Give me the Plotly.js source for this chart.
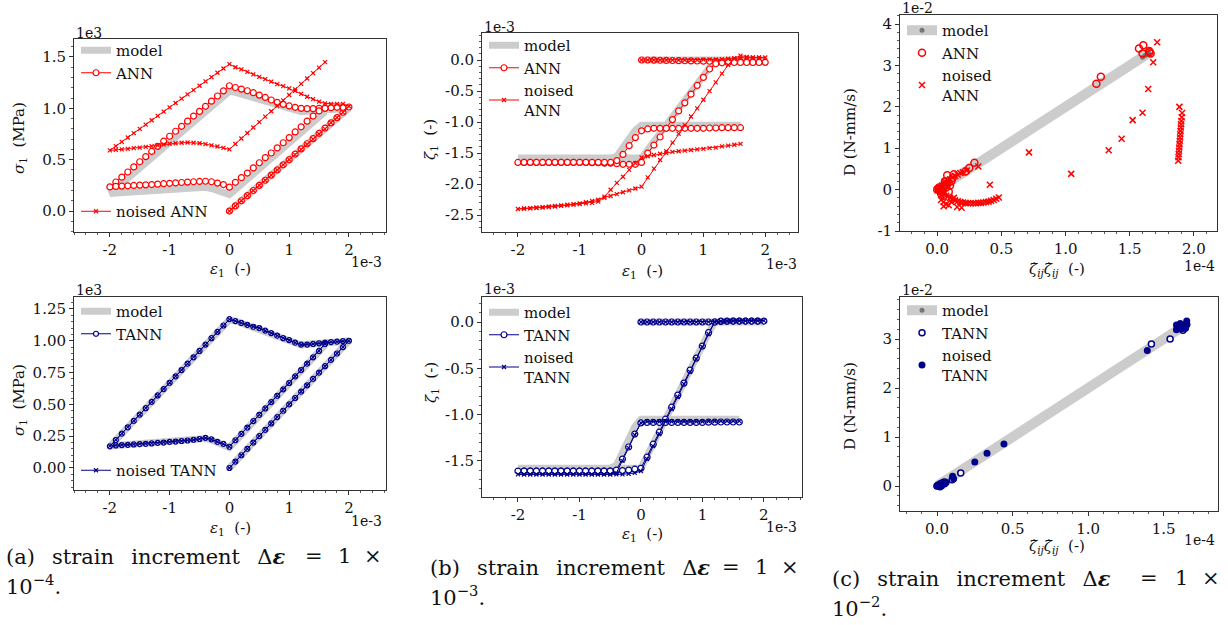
<!DOCTYPE html>
<html><head><meta charset="utf-8">
<script src="https://cdn.plot.ly/plotly-3.0.1.min.js"></script>
<style>html,body{margin:0;padding:0;background:#fff;} #chart{width:1228px;height:625px;}</style>
</head><body><div id="chart"></div>
<script>
// ---------- strain path (x in units of 1e-3) ----------
const strainPath = [0,0.1,0.2,0.3,0.4,0.5,0.6,0.7,0.8,0.9,1.0,1.1,1.2,1.3,1.4,1.5,1.6,1.7,1.8,1.9,2.0,
 1.9,1.8,1.7,1.6,1.5,1.4,1.3,1.2,1.1,1.0,0.9,0.8,0.7,0.6,0.5,0.4,0.3,0.2,0.1,0,
 -0.1,-0.2,-0.3,-0.4,-0.5,-0.6,-0.7,-0.8,-0.9,-1.0,-1.1,-1.2,-1.3,-1.4,-1.5,-1.6,-1.7,-1.8,-1.9,-2.0,
 -1.9,-1.8,-1.7,-1.6,-1.5,-1.4,-1.3,-1.2,-1.1,-1.0,-0.9,-0.8,-0.7,-0.6,-0.5,-0.4,-0.3,-0.2,-0.1,0,
 0.1,0.2,0.3,0.4,0.5,0.6,0.7,0.8,0.9,1.0,1.1,1.2,1.3,1.4,1.5,1.6];

// ---------- stress sigma_1 (units of 1e3 MPa) ----------
const sigmaModel = [0,0.05,0.1,0.15,0.2,0.25,0.3,0.35,0.4,0.45,0.5,0.55,0.6,0.65,0.7,0.75,0.8,0.85,0.9,0.95,1.0,
 0.995,0.99,0.985,0.98,0.975,0.972,0.97,0.968,0.985,1.003,1.02,1.04,1.06,1.078,1.095,1.11,1.125,1.14,1.155,1.165,
 1.115,1.065,1.015,0.965,0.915,0.865,0.815,0.765,0.715,0.665,0.615,0.565,0.515,0.465,0.415,0.365,0.315,0.265,0.215,0.17,
 0.176,0.18,0.183,0.186,0.19,0.193,0.196,0.2,0.203,0.207,0.21,0.214,0.218,0.223,0.228,0.232,0.22,0.2,0.185,0.16,
 0.21,0.26,0.31,0.36,0.41,0.46,0.51,0.56,0.61,0.66,0.71,0.76,0.81,0.86,0.91,0.965];
const sigmaANN = [0,0.05,0.1,0.15,0.2,0.25,0.3,0.35,0.4,0.45,0.5,0.555,0.605,0.655,0.705,0.757,0.808,0.858,0.91,0.962,1.013,
 1.01,1.01,1.006,1.003,1.0,0.997,0.997,1.0,1.01,1.023,1.039,1.058,1.081,1.106,1.129,1.152,1.171,1.187,1.203,1.22,
 1.17,1.12,1.07,1.02,0.97,0.925,0.875,0.825,0.777,0.728,0.68,0.63,0.58,0.53,0.48,0.43,0.38,0.33,0.283,0.235,
 0.24,0.243,0.246,0.249,0.252,0.255,0.258,0.262,0.266,0.27,0.274,0.278,0.282,0.285,0.288,0.29,0.285,0.272,0.258,0.232,
 0.28,0.325,0.37,0.42,0.47,0.52,0.565,0.615,0.665,0.715,0.77,0.82,0.875,0.925,0.975,1.0];
const sigmaNoisedANN = [0,0.05,0.1,0.15,0.2,0.25,0.3,0.35,0.4,0.45,0.5,0.55,0.6,0.65,0.7,0.75,0.8,0.86,0.91,0.96,1.02,
 1.042,1.042,1.042,1.048,1.065,1.09,1.113,1.14,1.17,1.194,1.216,1.235,1.26,1.284,1.306,1.33,1.355,1.38,1.40,1.43,
 1.388,1.346,1.304,1.262,1.22,1.178,1.136,1.094,1.052,1.01,0.968,0.926,0.884,0.842,0.8,0.758,0.716,0.674,0.632,0.59,
 0.595,0.6,0.606,0.612,0.618,0.625,0.632,0.64,0.648,0.655,0.66,0.665,0.667,0.665,0.66,0.652,0.64,0.628,0.615,0.6,
 0.653,0.706,0.76,0.813,0.866,0.92,0.972,1.025,1.078,1.13,1.185,1.238,1.29,1.343,1.396,1.45];
const sigmaTANN = [0,0.05,0.1,0.15,0.2,0.25,0.3,0.35,0.4,0.45,0.5,0.55,0.6,0.65,0.7,0.75,0.8,0.85,0.9,0.95,1.0,
 0.997,0.993,0.99,0.985,0.98,0.975,0.97,0.97,0.985,1.005,1.02,1.04,1.06,1.08,1.1,1.11,1.125,1.14,1.154,1.17,
 1.12,1.07,1.02,0.97,0.92,0.87,0.82,0.77,0.72,0.67,0.62,0.57,0.52,0.47,0.42,0.37,0.32,0.27,0.22,0.17,
 0.177,0.18,0.182,0.185,0.188,0.19,0.193,0.197,0.2,0.205,0.208,0.212,0.216,0.222,0.228,0.237,0.225,0.205,0.19,0.167,
 0.218,0.268,0.318,0.368,0.418,0.468,0.518,0.568,0.618,0.668,0.72,0.77,0.82,0.87,0.92,0.975];
const sigmaNoisedTANN = [0,0.051,0.1,0.151,0.2,0.25,0.301,0.35,0.4,0.451,0.5,0.55,0.601,0.65,0.7,0.751,0.8,0.85,0.901,0.95,1.0,
 0.996,0.993,0.989,0.985,0.98,0.975,0.971,0.969,0.986,1.004,1.021,1.04,1.059,1.079,1.1,1.112,1.126,1.14,1.155,1.168,
 1.118,1.069,1.019,0.969,0.92,0.871,0.82,0.77,0.721,0.67,0.621,0.57,0.52,0.471,0.42,0.37,0.321,0.27,0.221,0.172,
 0.178,0.181,0.183,0.185,0.189,0.191,0.194,0.197,0.201,0.205,0.209,0.212,0.217,0.222,0.228,0.236,0.224,0.206,0.19,0.168,
 0.219,0.268,0.319,0.368,0.419,0.468,0.519,0.568,0.619,0.668,0.719,0.77,0.821,0.87,0.921,0.975];

// ---------- internal variable zeta_1 (units of 1e-3) ----------
const zetaModel = [0,0,0,0,0,0,0,0,0,0,0,0,0,0,0,0,0,0,0,0,0,
 0,0,0,0,0,0,0,0,-0.12,-0.255,-0.39,-0.525,-0.66,-0.795,-0.93,-1.065,-1.2,-1.335,-1.47,-1.58,
 -1.58,-1.58,-1.58,-1.58,-1.58,-1.58,-1.58,-1.58,-1.58,-1.58,-1.58,-1.58,-1.58,-1.58,-1.58,-1.58,-1.58,-1.58,-1.58,-1.58,
 -1.58,-1.58,-1.58,-1.58,-1.58,-1.58,-1.58,-1.58,-1.58,-1.58,-1.58,-1.58,-1.58,-1.58,-1.58,-1.55,-1.41,-1.27,-1.13,-1.05,
 -1.05,-1.05,-1.05,-1.05,-1.05,-1.05,-1.05,-1.05,-1.05,-1.05,-1.05,-1.05,-1.05,-1.05,-1.05,-1.05];
const zetaANN = [0,0,-0.002,-0.004,-0.006,-0.008,-0.01,-0.012,-0.014,-0.016,-0.018,-0.02,-0.022,-0.024,-0.026,-0.028,-0.03,-0.032,-0.034,-0.036,-0.038,
 -0.04,-0.04,-0.04,-0.04,-0.04,-0.04,-0.045,-0.06,-0.145,-0.28,-0.41,-0.55,-0.69,-0.82,-0.96,-1.1,-1.24,-1.37,-1.5,-1.65,
 -1.68,-1.68,-1.68,-1.67,-1.66,-1.66,-1.655,-1.655,-1.65,-1.65,-1.65,-1.65,-1.65,-1.65,-1.65,-1.65,-1.65,-1.65,-1.65,-1.65,
 -1.648,-1.648,-1.648,-1.648,-1.648,-1.648,-1.648,-1.648,-1.648,-1.648,-1.648,-1.648,-1.648,-1.648,-1.648,-1.62,-1.52,-1.38,-1.25,-1.14,
 -1.11,-1.1,-1.1,-1.1,-1.1,-1.1,-1.1,-1.1,-1.1,-1.1,-1.095,-1.095,-1.09,-1.09,-1.09,-1.09];
const zetaNoisedANN = [0,0,0,0,0,0,0,0,0,0,0.005,0.01,0.01,0.015,0.02,0.03,0.07,0.05,0.04,0.04,0.04,
 0.04,0.04,0.04,0.035,0.02,-0.08,-0.22,-0.36,-0.5,-0.64,-0.78,-0.91,-1.05,-1.19,-1.33,-1.47,-1.61,-1.75,-1.89,-2.04,
 -2.07,-2.1,-2.13,-2.16,-2.19,-2.22,-2.25,-2.27,-2.29,-2.31,-2.32,-2.33,-2.34,-2.35,-2.36,-2.37,-2.38,-2.39,-2.395,-2.4,
 -2.39,-2.385,-2.38,-2.375,-2.37,-2.36,-2.35,-2.34,-2.33,-2.32,-2.31,-2.3,-2.28,-2.2,-2.09,-1.98,-1.88,-1.77,-1.66,-1.57,
 -1.55,-1.53,-1.51,-1.5,-1.48,-1.47,-1.46,-1.45,-1.44,-1.43,-1.42,-1.41,-1.39,-1.38,-1.365,-1.35];
const zetaTANN = [0,0,0,0,0,0,0,0,0,0,0,0,0,0.005,0.008,0.01,0.01,0.01,0.01,0.01,0.01,
 0.01,0.01,0.01,0.01,0.01,0.01,0.01,0,-0.115,-0.26,-0.39,-0.52,-0.66,-0.79,-0.92,-1.05,-1.19,-1.32,-1.46,-1.58,
 -1.59,-1.6,-1.605,-1.61,-1.61,-1.61,-1.61,-1.61,-1.61,-1.61,-1.61,-1.61,-1.61,-1.61,-1.61,-1.61,-1.61,-1.61,-1.61,-1.61,
 -1.61,-1.61,-1.61,-1.61,-1.61,-1.61,-1.61,-1.61,-1.61,-1.61,-1.61,-1.61,-1.61,-1.61,-1.61,-1.6,-1.48,-1.35,-1.21,-1.09,
 -1.085,-1.085,-1.085,-1.085,-1.085,-1.085,-1.085,-1.085,-1.085,-1.085,-1.082,-1.082,-1.08,-1.08,-1.08,-1.08];
const zetaNoisedTANN = [0,0,0,0,0,0,0,0,0,0,0,0.002,0.004,0.006,0.008,0.01,0.012,0.013,0.014,0.015,0.015,
 0.015,0.015,0.015,0.015,0.015,0.015,0.01,0,-0.13,-0.27,-0.4,-0.54,-0.67,-0.81,-0.94,-1.07,-1.21,-1.34,-1.48,-1.61,
 -1.63,-1.64,-1.645,-1.645,-1.645,-1.645,-1.645,-1.645,-1.645,-1.645,-1.645,-1.645,-1.645,-1.645,-1.645,-1.645,-1.645,-1.645,-1.645,-1.645,
 -1.645,-1.645,-1.645,-1.645,-1.645,-1.645,-1.645,-1.645,-1.645,-1.645,-1.645,-1.645,-1.645,-1.645,-1.645,-1.63,-1.5,-1.36,-1.22,-1.09,
 -1.075,-1.075,-1.075,-1.075,-1.075,-1.075,-1.075,-1.075,-1.075,-1.075,-1.072,-1.072,-1.07,-1.07,-1.07,-1.07];

// ---------- dissipation D (1e-2 N-mm/s) vs zeta-rate product (1e-4) ----------
const dissModelX = [0,0.005,0.02,0.05,1.6,1.63,1.65,1.62,0.03,0.01,0];
const dissModelY = [0,0.01,0.04,0.1,3.2,3.26,3.3,3.24,0.06,0.02,0];
const dissANNX = [0.0,0.01,0.02,0.015,0.03,0.04,0.05,0.06,0.03,0.05,0.07,0.08,0.1,0.09,0.06,0.11,0.12,0.078,0.13,0.22,0.25,0.29,1.24,1.275,1.572,1.606,1.6,1.652,1.663,1.655];
const dissANNY = [0.0,0.02,-0.03,0.05,0.0,-0.06,0.05,0.1,-0.1,-0.15,0.05,0.15,0.1,-0.05,0.2,0.2,0.28,0.35,0.37,0.44,0.52,0.65,2.56,2.73,3.41,3.49,3.29,3.35,3.29,3.32];
const dissNoisedANNX = [0.0,0.02,0.03,0.04,0.05,0.06,0.07,0.08,0.03,0.05,0.06,0.08,0.1,0.12,0.14,0.16,0.18,0.2,0.23,0.05,0.07,0.09,0.11,0.13,0.155,0.19,
 0.1,0.12,0.14,0.16,0.18,0.2,0.22,0.24,0.26,0.28,0.3,0.32,0.34,0.36,0.38,0.4,0.42,0.44,0.46,0.48,
 0.32,0.41,0.715,1.044,1.336,1.437,1.523,1.60,1.644,1.683,1.714,
 1.887,1.908,1.905,1.902,1.9,1.898,1.896,1.894,1.892,1.89,1.888,1.886,1.884,1.882,1.88,1.878];
const dissNoisedANNY = [0.0,0.05,-0.05,0.1,-0.1,0.15,-0.15,0.08,-0.25,-0.3,0.2,0.22,0.25,0.3,0.33,0.36,0.4,0.42,0.46,-0.4,-0.35,-0.38,-0.3,-0.2,-0.42,-0.44,
 -0.2,-0.23,-0.26,-0.28,-0.3,-0.31,-0.32,-0.33,-0.33,-0.33,-0.33,-0.32,-0.32,-0.31,-0.3,-0.29,-0.27,-0.25,-0.22,-0.19,
 0.56,0.12,0.9,0.38,0.95,1.23,1.68,1.86,2.43,3.08,3.56,
 2.0,1.85,1.75,1.66,1.58,1.5,1.42,1.34,1.26,1.18,1.1,1.02,0.94,0.86,0.78,0.7];
const dissTANNX = [0,0.01,0.02,0.03,0.015,0.04,0.05,0.1,0.157,1.419,1.543,1.628,1.64,1.65,1.62];
const dissTANNY = [0,0.02,0.04,0.05,0.01,0.07,0.08,0.13,0.265,2.9,3.0,3.18,3.25,3.3,3.22];
const dissNoisedTANNX = [0,0.01,0.02,0.03,0.04,0.05,0.06,0.02,0.03,0.103,0.11,0.25,0.331,0.443,1.392,1.585,1.585,1.61,1.63,1.64,1.645,1.653,1.62,1.655];
const dissNoisedTANNY = [0,0.01,0.03,0.02,0.05,0.04,0.07,-0.02,0.0,0.2,0.15,0.49,0.67,0.86,2.77,3.29,3.19,3.32,3.22,3.29,3.22,3.37,3.26,3.3];

// ---------- tick labels ----------
const epsTickVals = [-2,-1,0,1,2];
const epsTickText = ['-2','-1','0','1','2'];
const sigTopTickVals = [0,0.5,1.0,1.5];
const sigTopTickText = ['0.0','0.5','1.0','1.5'];
const sigBotTickVals = [0,0.25,0.5,0.75,1.0,1.25];
const sigBotTickText = ['0.00','0.25','0.50','0.75','1.00','1.25'];
const zetaTopTickVals = [-2.5,-2,-1.5,-1,-0.5,0];
const zetaTopTickText = ['-2.5','-2.0','-1.5','-1.0','-0.5','0.0'];
const zetaBotTickVals = [-1.5,-1,-0.5,0];
const zetaBotTickText = ['-1.5','-1.0','-0.5','0.0'];
const dTopTickVals = [-1,0,1,2,3,4];
const dTopTickText = ['-1','0','1','2','3','4'];
const dBotTickVals = [0,1,2,3];
const dBotTickText = ['0','1','2','3'];
const rateTopTickVals = [0,0.5,1.0,1.5,2.0];
const rateTopTickText = ['0.0','0.5','1.0','1.5','2.0'];
const rateBotTickVals = [0,0.5,1.0,1.5];
const rateBotTickText = ['0.0','0.5','1.0','1.5'];

// ---------- styling ----------
const W = 1228, H = 625;
const FONT = '"DejaVu Serif", "Liberation Serif", serif';
const RED = '#ff0000', NAVY = '#00008b', GREY = '#cccccc';
const px = v => v / W, py = v => 1 - v / H;

function axis(l, r, range, vals, text, minor, anchor, isY) {
  return {
    domain: isY ? [py(r), py(l)] : [px(l), px(r)],
    range: range, anchor: anchor, autorange: false,
    tickmode: 'array', tickvals: vals, ticktext: text,
    ticks: 'outside', ticklen: 4, tickwidth: 1, tickcolor: '#333',
    minor: {tickmode: 'linear', tick0: 0, dtick: minor, ticks: 'outside', ticklen: 2, tickwidth: 0.8, tickcolor: '#333'},
    showline: true, mirror: true, linecolor: '#333', linewidth: 1,
    showgrid: false, zeroline: false,
    tickfont: {family: FONT, size: 15, color: '#111'}
  };
}

const traces = [];
function pathTraces(xa, ya, yModel, yNet, yNoise, netName, noiseName, color, legA, legB, circSize) {
  traces.push({x: strainPath, y: yModel, xaxis: xa, yaxis: ya, mode: 'lines', name: 'model',
    line: {color: GREY, width: 7}, legend: legA});
  traces.push({x: strainPath, y: yNet, xaxis: xa, yaxis: ya, mode: 'lines+markers', name: netName,
    line: {color: color, width: 1}, marker: {symbol: 'circle', size: circSize, color: '#ffffff', line: {color: color, width: 1.2}}, legend: legA});
  traces.push({x: strainPath, y: yNoise, xaxis: xa, yaxis: ya, mode: 'lines+markers', name: noiseName,
    line: {color: color, width: 1}, marker: {symbol: 'x-thin', size: 4, color: color, line: {color: color, width: 1.2}}, legend: legB});
}
pathTraces('x', 'y', sigmaModel, sigmaANN, sigmaNoisedANN, 'ANN', 'noised ANN', RED, 'legend', 'legend2', 6);
pathTraces('x2', 'y2', sigmaModel, sigmaTANN, sigmaNoisedTANN, 'TANN', 'noised TANN', NAVY, 'legend3', 'legend4', 5);
pathTraces('x3', 'y3', zetaModel, zetaANN, zetaNoisedANN, 'ANN', 'noised<br>ANN', RED, 'legend5', 'legend5', 6);
pathTraces('x4', 'y4', zetaModel, zetaTANN, zetaNoisedTANN, 'TANN', 'noised<br>TANN', NAVY, 'legend6', 'legend6', 6);

// dissipation panels
traces.push({x: dissModelX, y: dissModelY, xaxis: 'x5', yaxis: 'y5', mode: 'lines+markers', name: 'model',
  line: {color: GREY, width: 10}, marker: {color: '#777777', size: 5}, legend: 'legend7'});
traces.push({x: dissANNX, y: dissANNY, xaxis: 'x5', yaxis: 'y5', mode: 'markers', name: 'ANN',
  marker: {symbol: 'circle-open', size: 7, color: RED, line: {color: RED, width: 1.5}}, legend: 'legend7'});
traces.push({x: dissNoisedANNX, y: dissNoisedANNY, xaxis: 'x5', yaxis: 'y5', mode: 'markers', name: 'noised<br>ANN',
  marker: {symbol: 'x-thin', size: 6, color: RED, line: {color: RED, width: 1.5}}, legend: 'legend7'});
traces.push({x: dissModelX, y: dissModelY, xaxis: 'x6', yaxis: 'y6', mode: 'lines+markers', name: 'model',
  line: {color: GREY, width: 10}, marker: {color: '#777777', size: 5}, legend: 'legend8'});
traces.push({x: dissTANNX, y: dissTANNY, xaxis: 'x6', yaxis: 'y6', mode: 'markers', name: 'TANN',
  marker: {symbol: 'circle', size: 6, color: '#ffffff', line: {color: NAVY, width: 1.5}}, legend: 'legend8'});
traces.push({x: dissNoisedTANNX, y: dissNoisedTANNY, xaxis: 'x6', yaxis: 'y6', mode: 'markers', name: 'noised<br>TANN',
  marker: {symbol: 'circle', size: 7, color: NAVY}, legend: 'legend8'});

function leg(x, y) {
  return {x: px(x), y: py(y), xanchor: 'left', yanchor: 'top', bgcolor: 'rgba(0,0,0,0)', borderwidth: 0,
    font: {family: FONT, size: 15, color: '#111'}, traceorder: 'normal', tracegroupgap: 0};
}

const ann = [];
function txt(x, y, s, opt) {
  ann.push(Object.assign({xref: 'paper', yref: 'paper', x: px(x), y: py(y), text: s, showarrow: false,
    font: {family: FONT, size: 14, color: '#111'}, xanchor: 'center', yanchor: 'middle'}, opt || {}));
}
// exponent labels
txt(74, 33, '1e3', {xanchor: 'left'});
txt(482, 27, '1e-3', {xanchor: 'left'});
txt(900, 8, '1e-2', {xanchor: 'left'});
txt(74, 290, '1e3', {xanchor: 'left'});
txt(482, 289, '1e-3', {xanchor: 'left'});
txt(900, 290, '1e-2', {xanchor: 'left'});
txt(384, 262, '1e-3', {xanchor: 'right'});
txt(799, 264, '1e-3', {xanchor: 'right'});
txt(1217, 266, '1e-4', {xanchor: 'right'});
txt(384, 521, '1e-3', {xanchor: 'right'});
txt(799, 527, '1e-3', {xanchor: 'right'});
txt(1217, 540, '1e-4', {xanchor: 'right'});
// axis titles
const AT = {font: {family: FONT, size: 15, color: '#111'}};
txt(230, 270, '<i>ε</i><sub>1</sub>  (-)', AT);
txt(230, 528, '<i>ε</i><sub>1</sub>  (-)', AT);
txt(642, 271, '<i>ε</i><sub>1</sub>  (-)', AT);
txt(642, 534, '<i>ε</i><sub>1</sub>  (-)', AT);
const zdot = '<i>ζ\u0307</i><sub><i>ij</i></sub>';
txt(1057, 270, zdot + zdot + '  (-)', AT);
txt(1057, 546, zdot + zdot + '  (-)', AT);
txt(19, 138, '<i>σ</i><sub>1</sub>  (MPa)', Object.assign({textangle: -90}, AT));
txt(19, 400, '<i>σ</i><sub>1</sub>  (MPa)', Object.assign({textangle: -90}, AT));
txt(431, 140, '<i>ζ</i><sub>1</sub>  (-)', Object.assign({textangle: -90}, AT));
txt(431, 383, '<i>ζ</i><sub>1</sub>  (-)', Object.assign({textangle: -90}, AT));
txt(850, 132, 'D (N-mm/s)', Object.assign({textangle: -90}, AT));
txt(850, 406, 'D (N-mm/s)', Object.assign({textangle: -90}, AT));
// captions (justified first line: wide word spaces, then '=', '1', '×' spread to the right edge)
const CAP = {font: {family: FONT, size: 21, color: '#111'}, xanchor: 'left'};
const CAPC = {font: {family: FONT, size: 21, color: '#111'}, xanchor: 'center'};
const gap = '\u00a0\u2002';
function caption(x0, y0, letter, expo, span) {
  txt(x0, y0, '(' + letter + ')' + gap + 'strain' + gap + 'increment' + gap + 'Δ<b><i>ε</i></b>', CAP);
  txt(x0 + span * 0.815, y0, '=', CAPC);
  txt(x0 + span * 0.897, y0, '1', CAPC);
  txt(x0 + span * 0.972, y0, '×', CAPC);
  txt(x0, y0 + 29, '10<sup>−' + expo + '</sup>.', CAP);
}
caption(4, 556, 'a', '4', 380);
caption(428, 567, 'b', '3', 372);
caption(830, 578, 'c', '2', 392);

const layout = {
  width: W, height: H, margin: {l: 0, r: 0, t: 0, b: 0},
  paper_bgcolor: '#ffffff', plot_bgcolor: '#ffffff',
  font: {family: FONT, color: '#111'},
  xaxis: axis(74, 386, [-2.6, 2.62], epsTickVals, epsTickText, 0.2, 'y', false),
  yaxis: axis(39, 232, [-0.204, 1.675], sigTopTickVals, sigTopTickText, 0.1, 'x', true),
  xaxis2: axis(74, 386, [-2.6, 2.62], epsTickVals, epsTickText, 0.2, 'y2', false),
  yaxis2: axis(297, 490, [-0.173, 1.344], sigBotTickVals, sigBotTickText, 0.05, 'x2', true),
  xaxis3: axis(482, 798, [-2.58, 2.53], epsTickVals, epsTickText, 0.2, 'y3', false),
  yaxis3: axis(33, 232, [-2.77, 0.435], zetaTopTickVals, zetaTopTickText, 0.1, 'x3', true),
  xaxis4: axis(482, 802, [-2.585, 2.62], epsTickVals, epsTickText, 0.2, 'y4', false),
  yaxis4: axis(297, 497, [-1.89, 0.27], zetaBotTickVals, zetaBotTickText, 0.1, 'x4', true),
  xaxis5: axis(900, 1217, [-0.29, 2.18], rateTopTickVals, rateTopTickText, 0.1, 'y5', false),
  yaxis5: axis(15, 231, [-1.0, 4.22], dTopTickVals, dTopTickText, 0.2, 'x5', true),
  xaxis6: axis(900, 1218, [-0.245, 1.86], rateBotTickVals, rateBotTickText, 0.1, 'y6', false),
  yaxis6: axis(297, 511, [-0.51, 3.86], dBotTickVals, dBotTickText, 0.2, 'x6', true),
  legend: leg(76, 34),
  legend2: leg(76, 195),
  legend3: leg(76, 295),
  legend4: leg(76, 454),
  legend5: leg(484, 29),
  legend6: leg(484, 296),
  legend7: leg(902, 14),
  legend8: leg(902, 294),
  annotations: ann,
  showlegend: true
};

Plotly.newPlot('chart', traces, layout, {staticPlot: true, displayModeBar: false});
</script></body></html>
